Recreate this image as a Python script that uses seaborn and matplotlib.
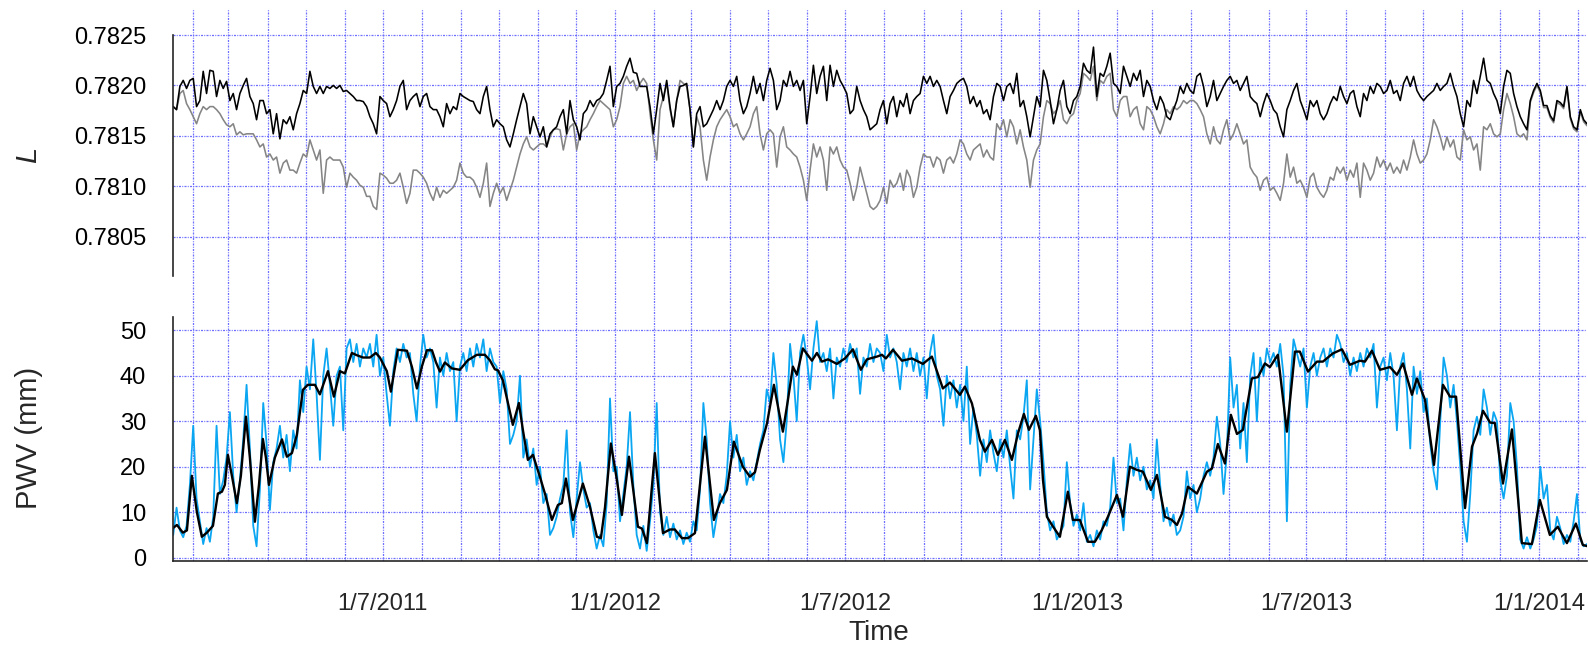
import numpy as np
import pandas as pd
import matplotlib
matplotlib.use("Agg")
import matplotlib.pyplot as plt
import matplotlib.dates as mdates
from matplotlib.ticker import FixedLocator, FormatStrFormatter, FuncFormatter
import seaborn as sns

# ---------------- data ----------------
START = "2011-01-16 06:00"      # first sample of the read series
STEP_DAYS = 2.6385              # spacing of the read samples (days)
SMOOTH_START = "2011-01-16"     # origin of smooth_day

# Upper panel, L minus 0.78000, in units of 1e-5
L_black_e5 = [
    179,176,199,205,197,205,207,179,185,214,192,215,214,189,205,197,204,185,192,176,
    192,200,207,189,182,166,185,185,172,176,152,172,147,166,162,169,156,172,182,195,
    192,214,199,192,199,192,199,197,200,197,200,194,195,192,189,185,185,184,179,169,
    162,152,
    189,185,182,169,176,185,199,205,176,185,189,192,179,189,192,179,176,176,169,159,
    182,172,179,176,192,189,187,185,184,176,172,189,199,176,159,166,162,159,146,139,
    152,166,179,192,182,152,169,159,149,159,139,152,156,159,169,176,152,185,166,159,
    146,172,176,185,179,185,187,192,205,219,179,199,202,209,219,227,213,212,199,199,
    199,179,152,176,202,185,205,179,159,185,199,200,202,176,139,172,179,159,162,169,
    176,185,176,185,199,205,199,209,185,172,179,192,209,192,202,185,205,217,205,176,
    185,205,199,214,199,205,195,205,162,189,220,192,209,219,185,220,199,215,205,199,
    192,172,176,199,185,176,169,156,159,162,176,185,162,182,189,169,185,179,192,172,
    185,189,192,209,202,209,199,205,199,185,172,189,195,202,205,207,199,182,189,179,
    185,172,176,166,189,202,199,185,199,202,192,212,179,185,169,149,169,189,179,215,
    205,185,162,176,195,205,179,172,185,189,199,222,215,212,238,189,212,209,219,232,
    202,199,192,219,209,199,212,205,215,189,205,199,185,176,189,182,169,166,176,185,
    199,192,202,195,192,209,212,199,179,189,205,185,192,199,205,209,202,205,195,202,
    209,189,185,182,169,182,192,185,176,172,159,149,176,185,195,202,185,176,166,185,
    179,185,172,166,172,182,189,185,199,189,182,192,195,179,169,192,185,199,192,202,
    199,192,195,205,192,195,185,202,209,199,209,195,189,185,189,192,195,202,195,199,
    202,212,199,189,172,159,185,179,205,192,209,227,205,202,192,185,172,199,215,212,
    192,179,169,162,156,185,195,202,195,180,180,170,165,185,183,179,199,169,159,156,
    176,166,162,
]
L_gray_e5 = [
    179,176,192,195,182,176,169,162,172,179,176,179,179,176,172,166,161,159,162,151,
    154,151,152,152,152,146,139,142,129,132,126,129,113,123,126,116,116,113,123,132,
    129,146,136,126,136,93,126,129,126,126,126,119,99,113,109,106,101,99,90,90,
    80,77,
    113,111,108,103,103,106,113,99,83,93,116,116,113,109,103,93,86,99,89,96,
    93,96,99,106,123,113,109,109,106,99,89,103,123,80,93,103,93,99,86,96,
    106,119,132,142,149,139,136,139,142,142,139,149,156,157,156,136,152,159,162,136,
    152,156,159,166,172,179,185,182,179,176,159,166,179,202,209,202,205,195,202,207,
    202,172,146,126,176,189,202,176,159,185,205,202,199,176,139,169,159,126,106,129,
    146,159,166,171,176,169,159,162,152,146,152,159,172,179,152,136,152,156,152,119,
    149,159,139,136,132,129,119,106,86,116,142,129,139,126,96,139,132,139,126,119,
    116,103,86,99,119,106,93,80,77,80,86,99,83,106,99,103,113,96,116,109,
    89,99,119,132,129,129,119,129,126,113,126,129,123,132,146,142,132,126,136,139,
    142,129,136,129,126,162,156,166,149,166,159,142,156,139,126,99,126,136,142,169,
    185,182,172,176,185,166,162,169,172,185,192,212,209,205,219,185,205,202,209,212,
    176,169,185,189,189,169,176,179,162,156,179,176,169,159,152,162,176,172,179,176,
    179,185,182,185,185,182,176,169,152,142,159,146,142,156,166,146,152,162,152,142,
    146,119,113,109,96,106,109,96,99,93,86,103,132,109,119,103,106,99,89,109,
    113,99,93,89,96,109,106,119,113,119,106,116,109,123,89,123,116,106,113,129,
    119,126,116,123,113,119,113,126,116,129,146,132,123,126,132,146,166,159,149,136,
    149,139,146,129,126,156,146,149,136,142,116,159,156,162,152,149,152,176,192,182,
    169,152,149,152,146,183,193,200,193,178,178,168,163,183,181,177,197,167,157,154,
    174,164,160,
]

# Lower panel, raw PWV (mm)
pwv_raw = [
    5,11,6,4.5,7,16,29,13,8,3,6.5,3.5,9,29,14,17,22,32,18,10,
    17,26,38,24,7,2.5,15,34,25,10.5,21,24,29,22,27,19,28,24,39,32,
    42,37,48,36,21.5,40,46,38,29,40,42,28,46,48,43,47,42,46,44,47,
    42,49,
    40,44,36,29,41,46,43,47,44,45,36,30,42,49,44,46,43,33,44,40,
    45,41,43,30,42,45,41,46,42,47,44,48,41,46,43,42,34,41,37,25,
    27,30,40,22,26,20,24,16,20,12,14,5,6.5,9,13,16,28,10,4.5,13,
    21,15,11,12,6,2,5,2.5,12,35,19,20,8,14,20,32,16,5,2,7,
    1.5,8,16,34,10,5,9,4.5,7.5,4,6,3,5.5,3.5,8,6,15,34,26,12,
    4.5,9,14,12,18,30,22,27,19,22,16,19,17,21,25,28,37,34,45,38,
    26,21,30,47,40,30,45,49,44,37,46,52,43,45,41,46,35,44,42,46,
    43,47,44,46,36,44,42,47,43,46,45,41,49,44,46,43,37,45,42,46,
    41,45,40,44,35,45,49,40,37,29,40,35,39,33,38,30,42,25,33,27,
    18,26,21,28,23,19,26,22,28,20,13,28,26,31,39,15,26,37,30,21,
    10,6,8,4,5.5,7,21,12,7,9.5,6,12,3.5,5,2.5,6,4,8,7,11,
    22,12,13,6,17,25,18,22,17,20,15,17,13,26,16,8,11,7,9.5,5,
    6,9,19,13,16,10,13,18,21,18,22,31,25,14,23,44,33,38,24,34,
    21,40,45,30,44,40,46,43,45,42,47,40,8,38,48,45,42,46,33,42,
    45,40,44,46,42,46,44,49,47,43,45,40,44,41,45,42,46,44,47,33,
    42,44,39,45,40,28,42,45,37,24,42,36,41,32,35,25,19,15,30,44,
    40,33,38,30,20,8,3.5,14,28,31,27,37,33,27,32,30,17,13,18,34,
    30,20,4,2,4.5,2,4,7,20,13,16,6,4,9,6.5,3,5,3.5,8,14,
    4,2.5,3,
]

# Lower panel, smoothed PWV (mm) at read days since SMOOTH_START
smooth_day = [
    0, 3.2, 7.9, 11.1, 15.0, 19.0, 22.9, 26.9, 31.7, 35.6,
    38.8, 41.1, 43.5, 46.7, 50.6, 53.8, 57.8, 60.9, 64.9, 68.1,
    71.2, 73.6, 76.0, 80.7, 86.3, 90.2, 94.2, 98.1, 102.9, 106.8,
    112.4, 116.3, 122.7, 127.4, 132.2, 136.1, 141.6, 145.6, 150.4, 155.9,
    160.6, 163.8, 169.3, 172.5, 178.0, 185.2, 189.1, 193.1, 197.0, 201.0,
    205.0, 208.1, 211.3, 215.2, 220.8, 227.1, 233.4, 240.6, 246.9, 250.8,
    254.8, 257.2, 261.1, 265.1, 269.0, 273.8, 277.0, 280.9, 284.9, 290.4,
    294.4, 299.9, 304.7, 307.8, 311.0, 316.5, 324.4, 330.0, 335.5, 338.7,
    341.9, 346.6, 351.4, 355.3, 360.9, 368.0, 371.2, 375.1, 381.4, 387.8,
    393.3, 397.2, 402.8, 407.5, 413.1, 421.0, 428.1, 432.8, 438.4, 443.9,
    451.0, 456.6, 460.6, 464.5, 470.1, 475.6, 480.3, 482.7, 486.7, 490.6,
    493.8, 498.5, 505.7, 509.6, 513.6, 518.4, 525.4, 531.8, 538.1, 544.4,
    549.2, 557.1, 561.1, 564.2, 569.8, 576.9, 584.8, 593.5, 600.6, 609.3,
    614.9, 622.8, 626.7, 632.3, 638.6, 642.6, 648.1, 652.8, 658.4, 663.9,
    668.7, 673.4, 677.4, 682.9, 686.1, 688.5, 691.6, 695.6, 701.9, 708.2,
    712.2, 717.7, 724.1, 729.6, 735.1, 739.9, 747.0, 751.8, 757.3, 762.8,
    767.6, 773.9, 778.7, 785.0, 790.5, 794.5, 798.5, 803.2, 810.3, 818.2,
    822.2, 826.9, 832.5, 837.2, 842.0, 846.7, 853.8, 858.6, 864.1, 868.1,
    874.4, 881.5, 887.9, 891.8, 898.2, 905.3, 910.0, 917.9, 925.1, 931.4,
    939.3, 943.3, 948.8, 955.2, 963.1, 968.6, 973.4, 980.5, 984.4, 990.8,
    997.9, 1005.0, 1010.6, 1015.4, 1022.5, 1028.0, 1032.0, 1036.7, 1042.3, 1046.1,
    1052.5, 1059.6, 1067.5, 1075.4, 1081.7, 1089.6, 1095.9, 1103.1, 1110.2, 1115.7,
    1119.7,
]
smooth_pwv = [
    6.5, 7.2, 5.5, 6, 18, 10, 4.6, 5.5, 7, 14.1,
    14.5, 16, 22.6, 18, 12, 18, 31, 22, 7.9, 16,
    26.1, 22, 16, 22, 26, 22.2, 23, 27, 36.9, 38,
    38, 35.9, 41, 35.4, 41, 40.5, 45, 44.5, 44, 44,
    45, 44, 41, 36.5, 45.7, 45.5, 42, 37.2, 42, 45.6,
    45.6, 43, 40.9, 42.9, 41.6, 41.3, 43.4, 44.6, 44.6, 43.4,
    41.4, 41.2, 39, 34, 29.2, 34, 28, 21.5, 22.6, 17.8,
    14.1, 8.3, 11.6, 12, 17.4, 8.3, 16.3, 11.2, 4.6, 4.3,
    11, 25.1, 17, 9.4, 22.2, 6.8, 6.4, 3.2, 23, 5.4,
    6.2, 6.2, 4.3, 4.3, 5.4, 26.6, 8.3, 12, 14.9, 25.5,
    20, 17.8, 18.8, 23.7, 29.5, 38, 31, 27.7, 34.7, 42,
    40.2, 46, 43.3, 45, 43.1, 43.6, 42.6, 43.8, 45.8, 41.3,
    43.6, 44.2, 44.6, 43.8, 45.7, 43.3, 43.8, 42.6, 44.2, 37.2,
    38.5, 35.8, 37.6, 33.9, 25.9, 23.3, 25.9, 22.6, 25.9, 21.5,
    27.3, 31.6, 28.1, 31.2, 28, 17.1, 9, 7.2, 4.6, 14.5,
    8.3, 8.3, 3.5, 3.5, 6.1, 9, 13.8, 9, 20, 19.3,
    18.9, 14.9, 18.2, 9, 8.3, 7.2, 9.7, 15.6, 14.1, 18.9,
    19.6, 25, 20.7, 31.4, 27.2, 28.1, 39.4, 39.7, 42.7, 41.9,
    44.6, 27.7, 45.3, 45.3, 40.9, 43.1, 43.1, 44.9, 45.8, 42.4,
    43.3, 43.1, 45.5, 41.3, 41.9, 40.2, 42.7, 35.8, 39.4, 34.7,
    20.4, 38, 35.4, 35.4, 10.9, 24.4, 27.3, 32.3, 29.7, 29.6,
    16.3, 28.2, 3.2, 3, 12.7, 5, 6.8, 3.2, 7.5, 2.8,
    2.5,
]

top_yticks = [0.7805, 0.7810, 0.7815, 0.7820, 0.7825]
bottom_yticks = [0, 10, 20, 30, 40, 50]
x_range = ["2011-01-16 02:00", "2014-02-08"]

# ---------------- frames ----------------
def sample_dates(n):
    return pd.Timestamp(START) + pd.to_timedelta(np.arange(n) * STEP_DAYS, unit="D")

df_black = pd.DataFrame({"time": sample_dates(len(L_black_e5)),
                         "L": 0.78 + np.array(L_black_e5) * 1e-5})
df_gray = pd.DataFrame({"time": sample_dates(len(L_gray_e5)),
                        "L": 0.78 + np.array(L_gray_e5) * 1e-5})
df_raw = pd.DataFrame({"time": sample_dates(len(pwv_raw)), "pwv": pwv_raw})
df_smooth = pd.DataFrame({"time": pd.Timestamp(SMOOTH_START) + pd.to_timedelta(smooth_day, unit="D"),
                          "pwv": smooth_pwv})

# ---------------- style ----------------
sns.set_style("white")
plt.rcParams["font.family"] = ["Liberation Sans", "DejaVu Sans"]
plt.rcParams["axes.linewidth"] = 1.2

GRID = "#6e6eff"
GRID_LS = (0, (1.6, 1.0, 0.8, 1.0))

W, H = 1588, 647
fig = plt.figure(figsize=(W / 100, H / 100), dpi=100)
left = 173 / W
width = (1587 - 173) / W
ax_b = fig.add_axes([left, (H - 561) / H, width, (561 - 300) / H])
ax_t = fig.add_axes([left, (H - 300) / H, width, (300 - 9) / H], sharex=ax_b)

# upper panel
sns.lineplot(data=df_gray, x="time", y="L", ax=ax_t, color="#858585", lw=1.15, estimator=None)
sns.lineplot(data=df_black, x="time", y="L", ax=ax_t, color="black", lw=1.15, estimator=None)
# lower panel
sns.lineplot(data=df_raw, x="time", y="pwv", ax=ax_b, color="#0aa6f2", lw=1.3, estimator=None)
sns.lineplot(data=df_smooth, x="time", y="pwv", ax=ax_b, color="black", lw=1.7, estimator=None)

ax_b.set_xlim(pd.Timestamp(x_range[0]), pd.Timestamp(x_range[1]))
ax_t.set_ylim(0.779872, 0.782758)
ax_b.set_ylim(-0.725, 56.64)

ax_b.xaxis.set_major_locator(mdates.MonthLocator(bymonth=[1, 7]))
ax_b.xaxis.set_minor_locator(mdates.MonthLocator())
ax_b.xaxis.set_major_formatter(FuncFormatter(
    lambda v, pos: (lambda d: f"{d.day}/{d.month}/{d.year}")(mdates.num2date(v))))

ax_t.yaxis.set_major_locator(FixedLocator(top_yticks))
ax_t.yaxis.set_major_formatter(FormatStrFormatter("%.4f"))
ax_b.yaxis.set_major_locator(FixedLocator(bottom_yticks))
ax_b.yaxis.set_major_formatter(FormatStrFormatter("%d"))

for ax in (ax_t, ax_b):
    ax.set_xlabel("")
    ax.set_ylabel("")
    ax.set_axisbelow(True)
    ax.grid(True, which="both", axis="x", color=GRID, lw=0.9, ls=GRID_LS)
    ax.grid(True, which="major", axis="y", color=GRID, lw=0.9, ls=GRID_LS)
    ax.spines["top"].set_visible(False)
    ax.spines["right"].set_visible(False)
    ax.tick_params(axis="y", direction="out", length=14.4, width=1.1, pad=5,
                   labelsize=17, colors="black")
    ax.patch.set_alpha(0)

ax_t.spines["bottom"].set_visible(False)
ax_t.spines["left"].set_bounds(0.78011, 0.7825)
ax_t.tick_params(axis="x", which="both", length=0, labelbottom=False)
ax_b.spines["left"].set_bounds(-0.725, 52.9)
ax_b.tick_params(axis="x", which="major", direction="out", length=13, width=1.1,
                 pad=10, labelsize=17)
ax_b.tick_params(axis="x", which="minor", direction="out", length=8, width=1.1)

fig.text(28 / W, 1 - 155 / H, "L", rotation=90, ha="center", va="center",
         fontsize=21, style="italic")
fig.text(29 / W, 1 - 438 / H, "PWV (mm)", rotation=90, ha="center", va="center",
         fontsize=21)
fig.text(879 / W, (H - 639.5) / H, "Time", ha="center", va="baseline", fontsize=20)

fig.savefig("out.png", dpi=100)
